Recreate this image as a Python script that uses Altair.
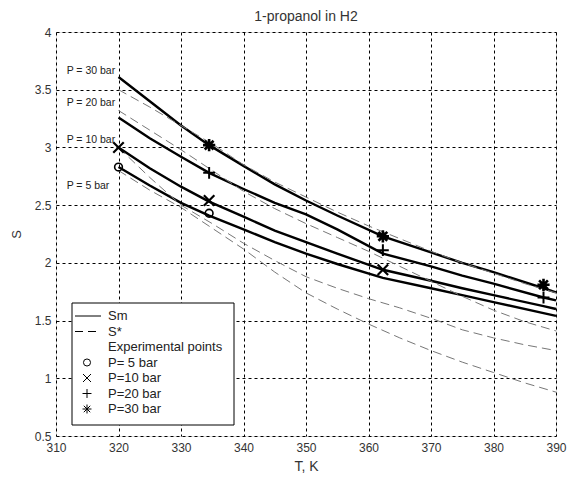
import altair as alt
import pandas as pd

# ---------------- data ----------------
T_sm = [320, 325, 330, 334.5, 340, 345, 350, 355, 362.3, 370, 375, 380, 388, 390]
Sm_5 = [2.83, 2.67, 2.52, 2.41, 2.29, 2.18, 2.08, 1.99, 1.87, 1.78, 1.72, 1.66, 1.565, 1.54]
Sm_10 = [3.00, 2.82, 2.66, 2.53, 2.40, 2.28, 2.18, 2.08, 1.94, 1.845, 1.78, 1.72, 1.625, 1.60]
Sm_20 = [3.26, 3.08, 2.92, 2.78, 2.64, 2.52, 2.42, 2.29, 2.08, 1.97, 1.89, 1.82, 1.70, 1.675]
Sm_30 = [3.61, 3.40, 3.19, 3.02, 2.84, 2.68, 2.54, 2.41, 2.23, 2.09, 2.00, 1.92, 1.78, 1.745]

T_st = [320, 325, 330, 335, 340, 345, 350, 355, 360, 365, 370, 375, 380, 385, 390]
St_5 = [2.80, 2.63, 2.48, 2.30, 2.12, 1.92, 1.74, 1.60, 1.47, 1.35, 1.24, 1.14, 1.05, 0.96, 0.88]
St_10 = [3.00, 2.74, 2.50, 2.34, 2.17, 2.02, 1.88, 1.78, 1.69, 1.61, 1.52, 1.42, 1.35, 1.29, 1.24]
St_20 = [3.32, 3.15, 2.98, 2.80, 2.62, 2.47, 2.34, 2.22, 2.10, 1.97, 1.84, 1.71, 1.59, 1.49, 1.41]
St_30 = [3.50, 3.35, 3.19, 3.03, 2.85, 2.70, 2.57, 2.44, 2.32, 2.21, 2.10, 2.00, 1.91, 1.82, 1.74]

exp_T5, exp_S5 = [320, 334.5], [2.83, 2.43]
exp_T10, exp_S10 = [320, 334.5, 362.3], [3.00, 2.54, 1.94]
exp_T20, exp_S20 = [334.5, 362.3, 388], [2.78, 2.11, 1.70]
exp_T30, exp_S30 = [334.5, 362.3, 388], [3.02, 2.23, 1.81]

p_labels = ["P = 30 bar", "P = 20 bar", "P = 10 bar", "P =  5 bar"]
p_label_T = [311.7, 311.7, 311.7, 311.7]
p_label_S = [3.66, 3.385, 3.064, 2.665]

x_ticks = [310, 320, 330, 340, 350, 360, 370, 380, 390]
y_ticks = [0.5, 1, 1.5, 2, 2.5, 3, 3.5, 4]

legend_items = ["Sm", "S*", "Experimental points", "P= 5 bar", "P=10 bar", "P=20 bar", "P=30 bar"]

# ---------------- build tables ----------------
def long(T, series):
    rows = []
    for name, vals in series.items():
        for t, s in zip(T, vals):
            rows.append({"T": t, "S": s, "curve": name})
    return pd.DataFrame(rows)

sm_df = long(T_sm, {"5": Sm_5, "10": Sm_10, "20": Sm_20, "30": Sm_30})
st_df = long(T_st, {"5": St_5, "10": St_10, "20": St_20, "30": St_30})

FONT = "Liberation Sans"
xs = alt.Scale(domain=[310, 390], nice=False, zero=False)
ys = alt.Scale(domain=[0.5, 4], nice=False, zero=False)

x_enc = alt.X("T:Q", scale=xs, axis=alt.Axis(
    values=x_ticks, format="~g", title="T, K", grid=True, gridDash=[3, 3], gridColor="black",
    gridOpacity=1, gridWidth=1, domain=False, ticks=False, labelPadding=6,
    labelFontSize=12, labelColor="#333", labelFont=FONT, titleFont=FONT,
    titleFontSize=14, titleFontWeight="normal", titleColor="#333", titlePadding=6,
    labelFlush=False))
y_enc = alt.Y("S:Q", scale=ys, axis=alt.Axis(
    values=y_ticks, format="~g", title="S", grid=True, gridDash=[3, 3], gridColor="black",
    gridOpacity=1, gridWidth=1, domain=False, ticks=False, labelPadding=5,
    labelFontSize=12, labelColor="#333", labelFont=FONT, titleFont=FONT,
    titleFontSize=13, titleFontWeight="normal", titleColor="#333", titlePadding=11,
    labelFlush=False))

base_lines = alt.Chart(sm_df).mark_line(color="black", strokeWidth=2.4).encode(
    x=x_enc, y=y_enc, detail="curve:N", order="T:Q")

dashed = alt.Chart(st_df).mark_line(color="#777777", strokeWidth=1, strokeDash=[9, 5]).encode(
    x="T:Q", y="S:Q", detail="curve:N", order="T:Q")

X_PATH = "M-1,-1L1,1M-1,1L1,-1"
PLUS_PATH = "M-1,0L1,0M0,-1L0,1"
AST_PATH = "M-1,0L1,0M0,-1L0,1M-0.72,-0.72L0.72,0.72M-0.72,0.72L0.72,-0.72"

def pts(T, S, shape, size, sw):
    df = pd.DataFrame({"T": T, "S": S})
    return alt.Chart(df).mark_point(shape=shape, filled=False, color="black",
                                    strokeWidth=sw, size=size, opacity=1).encode(x="T:Q", y="S:Q")

p5 = pts(exp_T5, exp_S5, "circle", 60, 1.6)
p10 = pts(exp_T10, exp_S10, X_PATH, 110, 2.2)
p20 = pts(exp_T20, exp_S20, PLUS_PATH, 140, 2.0)
p30 = pts(exp_T30, exp_S30, AST_PATH, 150, 2.6)

plab = alt.Chart(pd.DataFrame({"T": p_label_T, "S": p_label_S, "t": p_labels})).mark_text(
    align="left", baseline="middle", fontSize=10.5, font=FONT, color="#222").encode(
    x="T:Q", y="S:Q", text="t:N")

# ---------------- legend (drawn inside plot area) ----------------
one = pd.DataFrame({"a": [0]})
leg_box = alt.Chart(one).mark_rect(fill="white", stroke="black", strokeWidth=1).encode(
    x=alt.value(16), x2=alt.value(178), y=alt.value(271), y2=alt.value(393))

leg_y = [284, 299.5, 315, 330.5, 346, 361.5, 377]
leg_layers = [leg_box]
for lab, yy in zip(legend_items, leg_y):
    leg_layers.append(alt.Chart(one).mark_text(
        align="left", baseline="middle", fontSize=13, font=FONT, color="#222", text=lab).encode(
        x=alt.value(52), y=alt.value(yy)))
leg_layers.append(alt.Chart(one).mark_rule(color="black", strokeWidth=1).encode(
    x=alt.value(19), x2=alt.value(45), y=alt.value(leg_y[0])))
leg_layers.append(alt.Chart(one).mark_rule(color="black", strokeWidth=1, strokeDash=[8, 5]).encode(
    x=alt.value(19), x2=alt.value(45), y=alt.value(leg_y[1])))
for shape, yy, sz in [("circle", leg_y[3], 50), (X_PATH, leg_y[4], 64), (PLUS_PATH, leg_y[5], 80), (AST_PATH, leg_y[6], 80)]:
    leg_layers.append(alt.Chart(one).mark_point(shape=shape, filled=False, color="black",
                                                strokeWidth=1, size=sz, opacity=1).encode(
        x=alt.value(31), y=alt.value(yy)))

chart = alt.layer(base_lines, dashed, p5, p10, p20, p30, plab, *leg_layers).properties(
    width=500, height=404,
    title=alt.TitleParams("1-propanol in H2", fontSize=14, font=FONT, fontWeight="normal",
                          color="#333", offset=2),
    autosize=alt.AutoSizeParams(type="none"),
    padding={"left": 48, "top": 24, "right": 12, "bottom": 46},
).configure_view(stroke="#555555", strokeWidth=1.5).configure(background="white")

chart.save("out.html", embed_options={"renderer": "svg", "actions": False})
